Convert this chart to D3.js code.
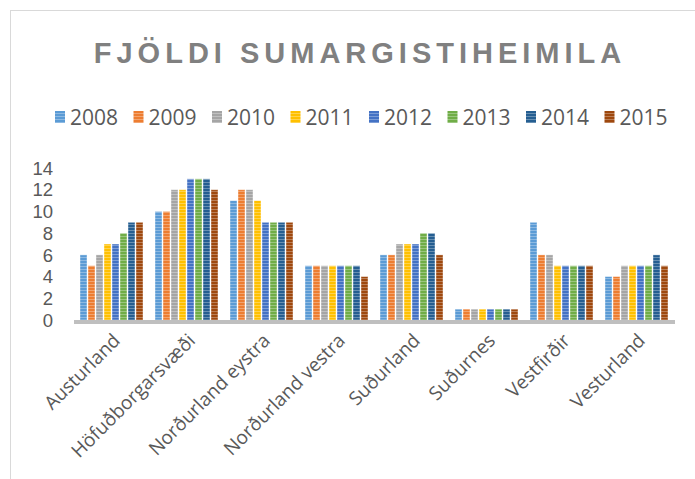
<!DOCTYPE html>
<html>
<head>
<meta charset="utf-8">
<script src="https://cdn.jsdelivr.net/npm/d3@7"></script>
<style>
  body { margin: 0; background: #fff; }
  svg { display: block; font-family: "Open Sans", "Liberation Sans", Arial, sans-serif; }
</style>
</head>
<body>
<div id="chart"></div>
<script>
// data
const regions = ["Austurland", "Höfuðborgarsvæði", "Norðurland eystra", "Norðurland vestra",
  "Suðurland", "Suðurnes", "Vestfirðir", "Vesturland"];
const years = ["2008", "2009", "2010", "2011", "2012", "2013", "2014", "2015"];
const y2008 = [6, 10, 11, 5, 6, 1, 9, 4];
const y2009 = [5, 10, 12, 5, 6, 1, 6, 4];
const y2010 = [6, 12, 12, 5, 7, 1, 6, 5];
const y2011 = [7, 12, 11, 5, 7, 1, 5, 5];
const y2012 = [7, 13, 9, 5, 7, 1, 5, 5];
const y2013 = [8, 13, 9, 5, 8, 1, 5, 5];
const y2014 = [9, 13, 9, 5, 8, 1, 5, 6];
const y2015 = [9, 12, 9, 4, 6, 1, 5, 5];
const yTicks = [0, 2, 4, 6, 8, 10, 12, 14];
const series = [y2008, y2009, y2010, y2011, y2012, y2013, y2014, y2015];

// constants
const w = 695, h = 479;
const left = 74, right = 674, baseY = 320, topY = 168;
const colors = ["#5B9BD5", "#ED7D31", "#A5A5A5", "#FFC000", "#4472C4", "#70AD47", "#255E91", "#9E480E"];

const svg = d3.select("#chart").append("svg").attr("width", w).attr("height", h);

// striped fills
const defs = svg.append("defs");
colors.forEach((c, i) => {
  const p = defs.append("pattern")
    .attr("id", "pat" + i)
    .attr("patternUnits", "userSpaceOnUse")
    .attr("width", 8).attr("height", 3);
  p.append("rect").attr("width", 8).attr("height", 3).attr("fill", c);
  p.append("rect").attr("y", 2).attr("width", 8).attr("height", 1)
    .attr("fill", "#fff").attr("opacity", 0.3);
});

// chart border
svg.append("rect")
  .attr("x", 10.5).attr("y", 10.5)
  .attr("width", w).attr("height", h)
  .attr("fill", "none").attr("stroke", "#d9d9d9");

// title
svg.append("text")
  .attr("x", 360).attr("y", 63)
  .attr("text-anchor", "middle")
  .attr("font-family", "Liberation Sans, Arial, sans-serif")
  .attr("font-size", 29).attr("font-weight", "bold")
  .attr("letter-spacing", 5)
  .attr("fill", "#808080")
  .text("FJÖLDI SUMARGISTIHEIMILA");

// scales
const x0 = d3.scaleBand().domain(regions).range([left, right]);
const x1 = d3.scaleBand().domain(years).range([0, x0.bandwidth()])
  .paddingInner(0.125).paddingOuter(0.75);
const y = d3.scaleLinear().domain([0, 14]).range([baseY, topY]);

// legend
const legend = svg.append("g").attr("transform", "translate(55,117)");
years.forEach((yr, i) => {
  const g = legend.append("g").attr("transform", `translate(${i * 78.5},0)`);
  g.append("rect").attr("x", 0).attr("y", -6).attr("width", 10).attr("height", 12)
    .attr("fill", `url(#pat${i})`);
  g.append("text").attr("x", 15).attr("y", 0).attr("dy", "0.36em")
    .attr("font-size", 21).attr("fill", "#595959").text(yr);
});

// y axis labels
svg.append("g").selectAll("text").data(yTicks).join("text")
  .attr("x", 53).attr("y", d => y(d)).attr("dy", "0.36em")
  .attr("text-anchor", "end")
  .attr("font-family", "Liberation Sans, Arial, sans-serif")
  .attr("font-size", 18.5).attr("fill", "#595959")
  .text(d => d);

// bars
const groups = svg.append("g").selectAll("g").data(regions).join("g")
  .attr("transform", r => `translate(${x0(r)},0)`);
groups.selectAll("rect")
  .data((r, ri) => series.map((s, si) => ({ yr: years[si], v: s[ri], i: si })))
  .join("rect")
  .attr("x", d => x1(d.yr))
  .attr("y", d => y(d.v))
  .attr("width", x1.bandwidth())
  .attr("height", d => baseY - y(d.v))
  .attr("fill", d => `url(#pat${d.i})`)
  .attr("stroke", "#fff").attr("stroke-opacity", 0.5).attr("stroke-width", 0.8);

// x axis line
svg.append("line")
  .attr("x1", left).attr("x2", right + 1)
  .attr("y1", baseY + 2).attr("y2", baseY + 2)
  .attr("stroke", "#bfbfbf").attr("stroke-width", 4);

// x labels
svg.append("g").selectAll("text").data(regions).join("text")
  .attr("transform", r => `translate(${x0(r) + x0.bandwidth() / 2 + 5},337) rotate(-45)`)
  .attr("text-anchor", "end").attr("dy", "0.36em")
  .attr("font-size", 19).attr("fill", "#595959")
  .text(r => r);
</script>
</body>
</html>
